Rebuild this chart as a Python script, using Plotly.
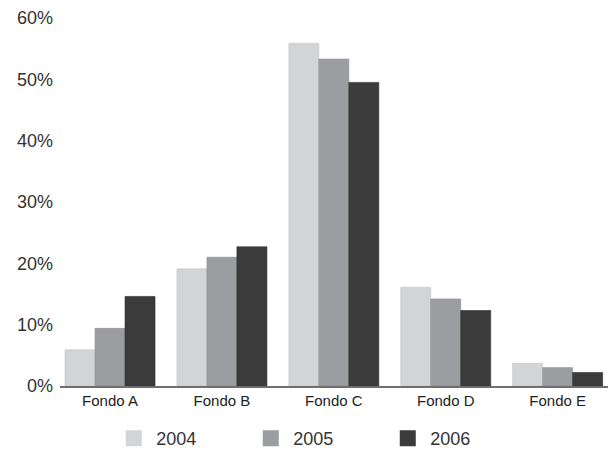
import plotly.graph_objects as go

# Distribution by fund, share of total (%)
fondos = ["Fondo A", "Fondo B", "Fondo C", "Fondo D", "Fondo E"]
years = ["2004", "2005", "2006"]
v2004 = [5.9, 19.1, 55.9, 16.1, 3.7]
v2005 = [9.4, 21.0, 53.3, 14.2, 3.0]
v2006 = [14.6, 22.7, 49.5, 12.3, 2.2]
y_ticks = [0, 10, 20, 30, 40, 50, 60]

colors = ["#d3d4d6", "#9c9da1", "#3b3b3c"]
edges = ["#c4c5c7", "#8e8f93", "#2e2e2f"]
series = [v2004, v2005, v2006]
xpos = list(range(len(fondos)))

fig = go.Figure()
for name, vals, col, edge in zip(years, series, colors, edges):
    fig.add_trace(go.Bar(
        x=xpos, y=vals, name=name, showlegend=False,
        marker=dict(color=col, line=dict(color=edge, width=0.6)),
    ))

# Large square legend keys
for name, col in zip(years, colors):
    fig.add_trace(go.Scatter(
        x=[None], y=[None], mode="markers", name=name,
        marker=dict(symbol="square", size=19, color=col),
    ))

fig.update_layout(
    width=608, height=454,
    margin=dict(l=60, r=0, t=18, b=68),
    paper_bgcolor="white", plot_bgcolor="white",
    barmode="group", bargap=0.196, bargroupgap=0,
    font=dict(family="Liberation Sans, Arial, sans-serif", color="#333333"),
    showlegend=True,
    legend=dict(
        orientation="h",
        xref="container", x=0.183, xanchor="left",
        yref="container", y=0.034, yanchor="middle",
        entrywidth=87, entrywidthmode="pixels",
        itemwidth=35,
        font=dict(size=18, color="#333333"),
        itemsizing="trace",
    ),
)
fig.update_xaxes(
    range=[-0.447, 4.45],
    tickmode="array", tickvals=xpos, ticktext=fondos,
    tickfont=dict(size=15, color="#222222"),
    showline=True, linecolor="#6f6f6f", linewidth=1.5,
    showgrid=False, zeroline=False, ticks="",
)
fig.update_yaxes(
    range=[0, 60],
    tickmode="array", tickvals=y_ticks, ticktext=[f"{t}%" for t in y_ticks],
    tickfont=dict(size=18, color="#333333"),
    showline=False, showgrid=False, zeroline=False, ticks="",
    ticklabelstandoff=6,
)

fig.write_html("out.html")
